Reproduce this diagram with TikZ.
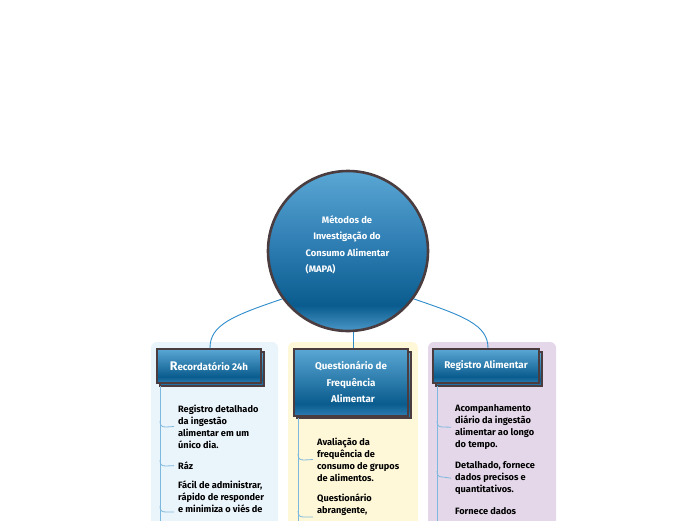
\documentclass[tikz,border=0pt]{standalone}
\usepackage{fontspec}
\setmainfont{Fira Sans}
\newfontfamily\medfont{Fira Sans}
\newfontfamily\whitefont{Fira Sans}
\definecolor{edge}{HTML}{4B3D3F}
\definecolor{conn}{HTML}{2E8CCB}
\definecolor{branch}{HTML}{7DB9DE}
\definecolor{panelA}{HTML}{EAF4FB}
\definecolor{panelB}{HTML}{FEF8D8}
\definecolor{panelC}{HTML}{E3D7E9}
\definecolor{bLight}{HTML}{5AA7D4}
\definecolor{bMid}{HTML}{2E7DB3}
\definecolor{bDark}{HTML}{0A5C8E}
\definecolor{bBot}{HTML}{4A96C7}
\pgfdeclareverticalshading{ballsh}{100bp}{color(0bp)=(bBot); color(25bp)=(bBot); color(33bp)=(bDark); color(52bp)=(bMid); color(75bp)=(bLight); color(100bp)=(bLight)}
\pgfdeclareverticalshading{boxsh}{100bp}{color(0bp)=(bMid); color(25bp)=(bMid); color(34bp)=(bDark); color(75bp)=(bLight); color(100bp)=(bLight)}
\tikzset{
  topicbox/.style={draw=edge, line width=2pt, shading=boxsh},
  connector/.style={draw=conn, line width=0.9pt},
  trunk/.style={draw=branch, line width=0.9pt},
  stub/.style={draw=branch, line width=0.8pt},
  itemtext/.style={font=\medfont\bfseries\fontsize{9.2}{12}\selectfont, align=left, inner sep=0pt, anchor=north west, text=black},
  boxtext/.style={font=\whitefont\bfseries\fontsize{9.8}{16.5}\selectfont, text=white, align=center, inner sep=0pt},
  balltext/.style={font=\whitefont\bfseries\fontsize{9.4}{16.5}\selectfont, text=white, inner sep=0pt},
}
\begin{document}
\begin{tikzpicture}[x=1pt,y=-1pt]
\useasboundingbox (0,0) rectangle (696,520);
% panels
\fill[panelA, rounded corners=6pt] (151,342) rectangle (278,540);
\fill[panelB, rounded corners=6pt] (288,342) rectangle (418,540);
\fill[panelC, rounded corners=6pt] (428,342) rectangle (556,540);
% central circle
\node[circle, draw=edge, line width=2.6pt, shading=ballsh, minimum size=160pt, inner sep=0pt] (root) at (348,251) {};
\node[balltext, anchor=center] (t1) at (347,220) {Métodos de};
\node[balltext, anchor=center] (t2) at (347,236.5) {Investigação do};
\node[balltext, anchor=center] (t3) at (347.5,253) {Consumo Alimentar};
\node[balltext, anchor=west] (t4) at (305.5,269.5) {(MAPA)};
% topic boxes: shadows
\draw[topicbox] (160,352) rectangle (264,386);
\draw[topicbox] (297,352) rectangle (411,418);
\draw[topicbox] (436,352) rectangle (542,386);
% front boxes
\node[topicbox, minimum width=104pt, minimum height=34pt, anchor=north west, inner sep=0pt] (bA) at (156,348) {};
\node[topicbox, minimum width=114pt, minimum height=67pt, anchor=north west, inner sep=0pt] (bB) at (293,348) {};
\node[topicbox, minimum width=106pt, minimum height=34pt, anchor=north west, inner sep=0pt] (bC) at (432,348) {};
\node[boxtext] (lA) at (bA.center) {{\fontsize{12.5}{14}\selectfont R}ecordatório 24h};
\node[boxtext] (lB) at ([yshift=0.5pt]bB.center) {Questionário de\\Frequência\\\hspace{4pt}Alimentar};
\node[boxtext] (lC) at (bC.center) {Registro Alimentar};
% connectors
\coordinate (rA) at (282,299);
\coordinate (rC) at (414,299);
\draw[connector] (rA) .. controls (232,316) and (210,325) .. (bA.north -| 210,0);
\draw[connector] (root.south -| 353,0) -- (bB.north -| 353,0);
\draw[connector] (rC) .. controls (464,316) and (488,325) .. (bC.north -| 488,0);
% trunks
\coordinate (trA) at (160,386);
\coordinate (trB) at (298,418);
\coordinate (trC) at (437,386);
\draw[trunk] (trA) -- (160,530);
\draw[trunk] (trB) -- (298,530);
\draw[trunk] (trC) -- (437,530);
% items left
\node[itemtext] (a1) at (178,404.5) {Registro detalhado\\da ingestão\\alimentar em um\\único dia.};
\node[itemtext] (a2) at (178,461.5) {Ráz};
\node[itemtext] (a3) at (178,481) {Fácil de administrar,\\rápido de responder\\e minimiza o viés de};
\coordinate (a3s) at (174,512);
\draw[stub] (160,421) .. controls (160,426) and (162,427) .. (166,427) -- (a1.west -| 174,0);
\draw[stub] (160,460) .. controls (160,465) and (162,466) .. (166,466) -- (a2.west -| 174,0);
\draw[stub] (160,506) .. controls (160,511) and (162,512) .. (166,512) -- (a3s);
% items middle
\node[itemtext] (b1) at (317,437.5) {Avaliação da\\frequência de\\consumo de grupos\\de alimentos.};
\node[itemtext] (b2) at (317,494) {Questionário\\abrangente,};
\coordinate (b2s) at (313,517);
\draw[stub] (298,454) .. controls (298,459) and (300,460) .. (304,460) -- (b1.west -| 313,0);
\draw[stub] (298,511) .. controls (298,516) and (300,517) .. (304,517) -- (b2s);
% items right
\node[itemtext] (c1) at (455,404.5) {Acompanhamento\\diário da ingestão\\alimentar ao longo\\do tempo.};
\node[itemtext] (c2) at (455,461.5) {Detalhado, fornece\\dados precisos e\\quantitativos.};
\node[itemtext] (c3) at (455,507) {Fornece dados};
\draw[stub] (437,421) .. controls (437,426) and (439,427) .. (443,427) -- (c1.west -| 451,0);
\draw[stub] (437,471) .. controls (437,476) and (439,477) .. (443,477) -- (c2.west -| 451,0);
\end{tikzpicture}
\end{document}
